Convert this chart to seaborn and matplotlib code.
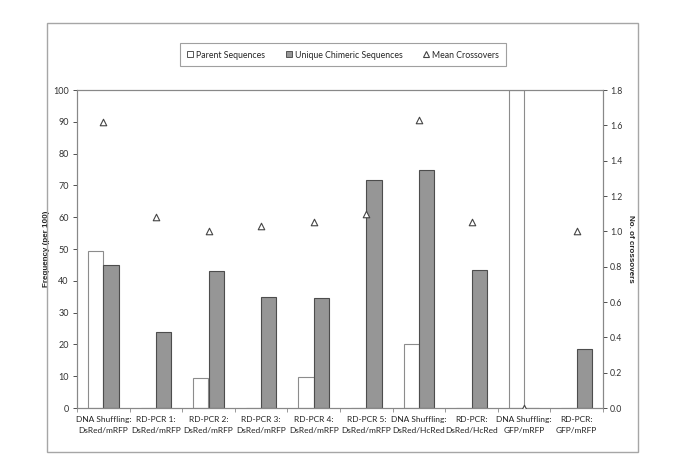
import numpy as np
import pandas as pd
import matplotlib
matplotlib.use("Agg")
import matplotlib.pyplot as plt
from matplotlib.patches import Rectangle
from matplotlib.lines import Line2D
import seaborn as sns

# data
categories = ["DNA Shuffling:\nDsRed/mRFP", "RD-PCR 1:\nDsRed/mRFP", "RD-PCR 2:\nDsRed/mRFP",
              "RD-PCR 3:\nDsRed/mRFP", "RD-PCR 4:\nDsRed/mRFP", "RD-PCR 5:\nDsRed/mRFP",
              "DNA Shuffling:\nDsRed/HcRed", "RD-PCR:\nDsRed/HcRed", "DNA Shuffling:\nGFP/mRFP",
              "RD-PCR:\nGFP/mRFP"]
parent_seq = [49.5, 0, 9.5, 0, 9.7, 0, 20, 0, 100, 0]
chimeric_seq = [45, 24, 43, 35, 34.7, 71.8, 75, 43.3, 0, 18.5]
mean_crossovers = [1.62, 1.08, 1.00, 1.03, 1.05, 1.10, 1.63, 1.05, 0.0, 1.00]
left_ticks = [0, 10, 20, 30, 40, 50, 60, 70, 80, 90, 100]
right_ticks = [0.0, 0.2, 0.4, 0.6, 0.8, 1.0, 1.2, 1.4, 1.6, 1.8]

sns.set_theme(style="white")
plt.rcParams['font.family'] = ['Lato', 'DejaVu Sans']

df = pd.DataFrame({
    'category': categories * 2,
    'value': parent_seq + chimeric_seq,
    'series': ['Parent Sequences'] * 10 + ['Unique Chimeric Sequences'] * 10,
})

fig = plt.figure(figsize=(6.85, 4.73), dpi=100)
# outer chart border
fig.patches.append(Rectangle((47 / 685, 1 - 452 / 473), (638 - 47) / 685, (452 - 23) / 473,
                             transform=fig.transFigure, fill=False, edgecolor='#a6a6a6', lw=1.0))
ax = fig.add_axes([77 / 685, 1 - 408 / 473, (603 - 77) / 685, (408 - 90) / 473])

sns.barplot(data=df, x='category', y='value', hue='series', ax=ax,
            palette={'Parent Sequences': 'white', 'Unique Chimeric Sequences': '#969696'},
            width=0.58, gap=0, edgecolor='#555555', linewidth=0.8, legend=False)
for bar, ec in zip(ax.patches, ['#8c8c8c'] * 10 + ['#4d4d4d'] * 10):
    bar.set_edgecolor(ec)

bold_lbl = dict(fontsize=5.8, fontweight='bold', family='Liberation Sans')
ax.set_ylim(0, 100)
ax.set_xlim(-0.5, len(categories) - 0.5)
ax.set_yticks(left_ticks)
ax.set_xlabel('')
ax.set_ylabel('Frequency (per 100)', **bold_lbl)
ax.yaxis.set_label_coords(-0.052, 0.5)
ax.tick_params(axis='y', labelsize=6.5, length=3, direction='out', left=True, width=0.6, pad=3, colors='#333333')
ax.tick_params(axis='x', labelsize=6, length=0, pad=6, colors='#222222')
for lbl in ax.get_xticklabels():
    lbl.set_linespacing(1.6)
ax.set_xticks(np.arange(-0.5, len(categories)), minor=True)
ax.tick_params(axis='x', which='minor', bottom=True, length=3, width=0.6, direction='out', color='#888888')
for s in ax.spines.values():
    s.set_color('#888888')
    s.set_linewidth(0.8)

ax2 = ax.twinx()
ax2.scatter(np.arange(len(categories)), mean_crossovers, marker='^', s=22,
            facecolors='white', edgecolors='#444444', linewidths=0.8, zorder=5)
ax2.set_ylim(0, 1.8)
ax2.set_yticks(right_ticks)
ax2.set_yticklabels([f"{t:.1f}" for t in right_ticks])
ax2.set_ylabel('No. of crossovers', rotation=-90, **bold_lbl)
ax2.yaxis.set_label_coords(1.059, 0.5)
ax2.tick_params(axis='y', labelsize=6.3, length=3, direction='out', right=True, width=0.6, pad=2, colors='#333333')
for s in ax2.spines.values():
    s.set_color('#888888')
    s.set_linewidth(0.8)

handles = [
    Rectangle((0, 0), 1, 1, facecolor='white', edgecolor='#555555', lw=0.7),
    Rectangle((0, 0), 1, 1, facecolor='#969696', edgecolor='#555555', lw=0.7),
    Line2D([], [], marker='^', linestyle='none', markerfacecolor='white',
           markeredgecolor='#444444', markersize=5, markeredgewidth=0.8),
]
leg = fig.legend(handles, ['Parent Sequences', 'Unique Chimeric Sequences', 'Mean Crossovers'],
                 loc='center', bbox_to_anchor=(343 / 685, 1 - 55 / 473), ncol=3, fontsize=6.3,
                 frameon=True, fancybox=False, edgecolor='#888888', handlelength=0.7,
                 handleheight=0.7, handletextpad=0.3, columnspacing=2.4, borderpad=0.8,
                 borderaxespad=0)
leg.get_frame().set_linewidth(0.8)

fig.savefig('out.png', dpi=100)
